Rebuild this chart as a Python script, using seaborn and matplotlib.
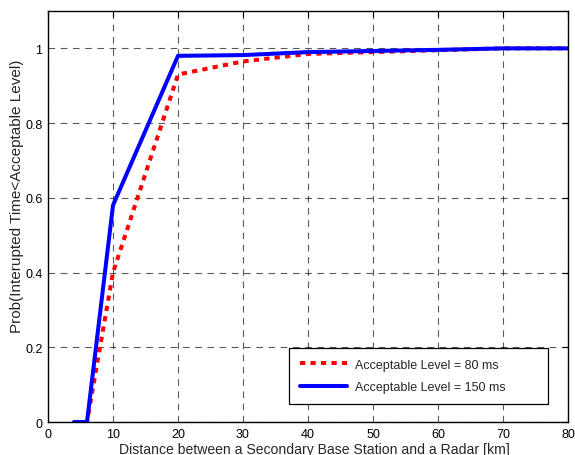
import matplotlib
matplotlib.use("Agg")
import matplotlib.pyplot as plt
import seaborn as sns
import pandas as pd

distance = [4, 6, 10, 20, 30, 40, 50, 60, 70, 80]
prob_80ms = [0, 0, 0.40, 0.93, 0.965, 0.985, 0.99, 0.995, 1.0, 1.0]
prob_150ms = [0, 0, 0.58, 0.98, 0.982, 0.99, 0.993, 0.996, 1.0, 1.0]
labels = ["Acceptable Level = 80 ms", "Acceptable Level = 150 ms"]

sns.set_style("white")
plt.rcParams['font.family'] = ['Liberation Sans', 'DejaVu Sans']

fig = plt.figure(figsize=(5.75, 4.56), dpi=100)
ax = fig.add_axes([48/575, 1-423/456, 520/575, 411/456])

df1 = pd.DataFrame({"x": distance, "y": prob_80ms})
df2 = pd.DataFrame({"x": distance, "y": prob_150ms})
sns.lineplot(data=df1, x="x", y="y", ax=ax, color="#ff0000", lw=2.9,
             linestyle=(0, (1.3, 1.3)), label=labels[0])
sns.lineplot(data=df2, x="x", y="y", ax=ax, color="#0000ff", lw=2.9,
             label=labels[1])

ax.set_xlim(0, 80)
ax.set_ylim(0, 1.1)
ax.set_xticks(range(0, 81, 10))
ax.set_yticks([0, 0.2, 0.4, 0.6, 0.8, 1])
ax.set_yticklabels(["0", "0.2", "0.4", "0.6", "0.8", "1"])
ax.grid(True, color="black", linestyle=(0, (6, 5)), lw=0.8, alpha=0.65)
ax.tick_params(direction="in", length=4, labelsize=9, top=True, right=True,
               colors="black", width=0.8, pad=4)
for s in ax.spines.values():
    s.set_color("black")
    s.set_linewidth(1)
ax.set_xlabel("Distance between a Secondary Base Station and a Radar [km]",
              fontsize=10.1)
ax.xaxis.set_label_coords(0.512, -0.048)
ax.xaxis.label.set_va("top")
ax.set_ylabel("Prob(Interupted Time<Acceptable Level)", fontsize=11)
ax.yaxis.set_label_coords(-0.046, 0.552)

leg = ax.legend(loc="lower left", bbox_to_anchor=(0.4635, 0.044, 0.498, 0.2),
                mode="expand", fontsize=9,
                frameon=True, fancybox=False, edgecolor="black", framealpha=1,
                handlelength=3.8, handletextpad=0.6, borderpad=0.85,
                labelspacing=0.85, borderaxespad=0)
leg.get_frame().set_linewidth(0.9)

fig.savefig("out.png", dpi=100)
